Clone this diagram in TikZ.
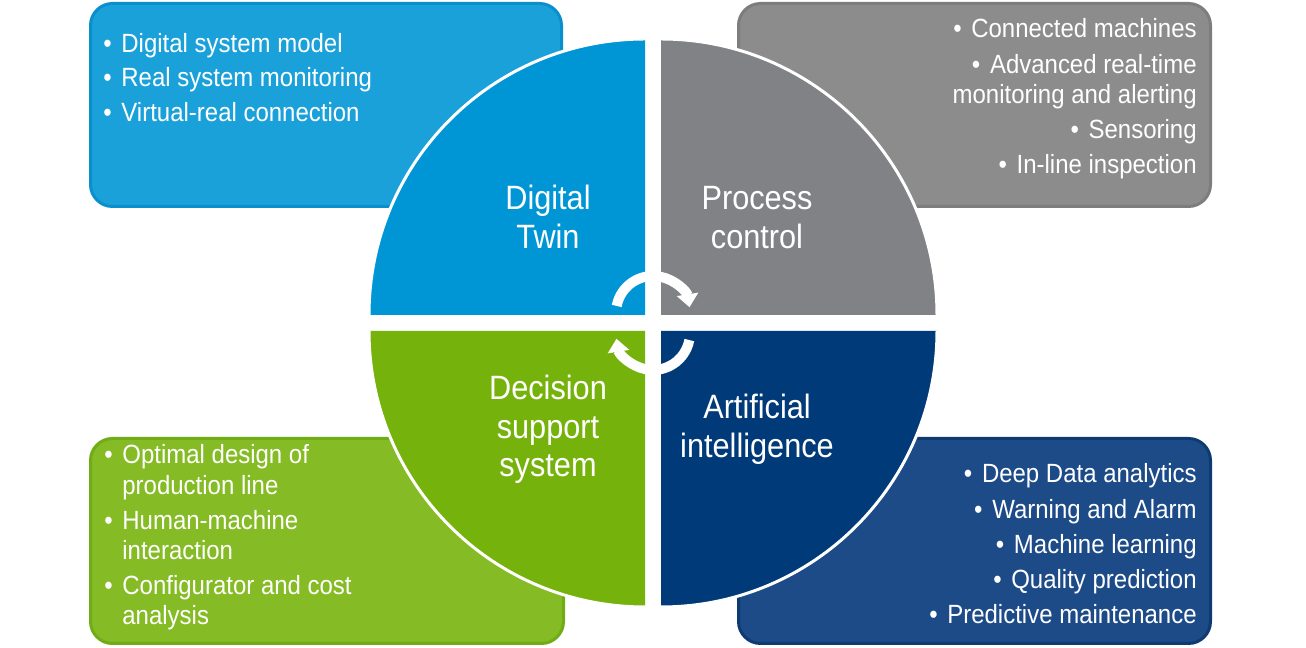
\documentclass[tikz,border=0pt]{standalone}
\usepackage{fontspec}
\setmainfont{Liberation Sans}[FakeStretch=0.91]
\usetikzlibrary{arrows.meta}

\definecolor{dt}{RGB}{0,150,214}
\definecolor{dtbox}{RGB}{27,161,218}
\definecolor{dtline}{RGB}{10,143,205}
\definecolor{pc}{RGB}{128,130,133}
\definecolor{pcbox}{RGB}{140,140,140}
\definecolor{pcline}{RGB}{125,125,125}
\definecolor{ds}{RGB}{118,178,12}
\definecolor{dsbox}{RGB}{133,187,37}
\definecolor{dsline}{RGB}{112,172,22}
\definecolor{ai}{RGB}{0,58,120}
\definecolor{aibox}{RGB}{28,75,136}
\definecolor{ailine}{RGB}{14,58,114}

\newcommand{\lgap}{2.8pt}
\newcommand{\bl}{\textbullet\hspace{5.5pt}}

\begin{document}
\begin{tikzpicture}[
        x=0.02cm, y=0.02cm,
        panel/.style={draw=#1line, fill=#1box, line width=0.06cm, rounded corners=0.44cm},
        rim/.style={draw=white, line width=0.06cm},
        title/.style={text=white, inner sep=0pt, anchor=base, font=\fontsize{19.2}{22.1}\selectfont},
        list/.style={text=white, inner sep=0pt, font=\fontsize{15}{17.2}\selectfont},
        cyc/.style={draw=white, line width=0.2cm, -{Triangle[width=0.42cm, length=0.26cm]}},
    ]
    \fill[white] (0,0) rectangle (1306,648);
    \useasboundingbox (0,0) rectangle (1306,648);

    % ---- Panels ----
    \draw[panel=dt] (90.5,441.5) rectangle (561.5,644.5);
    \draw[panel=pc] (738.5,441.5) rectangle (1210.5,644.5);
    \draw[panel=ds] (90.5,4.5) rectangle (563.5,209.5);
    \draw[panel=ai] (738.5,4.5) rectangle (1210.5,209.5);

    % ---- Quadrants ----
    \foreach \cx/\cy/\ang/\col in {645/333/90/dt, 661/333/0/pc, 645/317/180/ds, 661/317/270/ai} {
        \fill[\col] (\cx,\cy) -- ++(\ang+90:276) arc[start angle=\ang+90, end angle=\ang, radius=276] -- cycle;
        \draw[rim] (\cx,\cy) ++(\ang+90:276) arc[start angle=\ang+90, end angle=\ang, radius=276];
    }

    % ---- Titles ----
    \node[title] (dt-title) at (548,438.7) {\begin{tabular}[t]{@{}c@{}}Digital\\Twin\end{tabular}};
    \node[title] (pc-title) at (757,438.7) {\begin{tabular}[t]{@{}c@{}}Process\\control\end{tabular}};
    \node[title] (ds-title) at (548,248.7) {\begin{tabular}[t]{@{}c@{}}Decision\\support\\system\end{tabular}};
    \node[title] (ai-title) at (757,229.7) {\begin{tabular}[t]{@{}c@{}}Artificial\\intelligence\end{tabular}};

    % ---- Cycle arrows ----
    \draw[cyc] (653,335) ++(169:37) arc[start angle=169, end angle=9, radius=37];
    \draw[cyc] (653,315) ++(-11:37) arc[start angle=-11, end angle=-171, radius=37];

    % ---- Lists ----
    \node[list, anchor=base west] (dt-list) at (103,595.7) {\begin{tabular}[t]{@{}l@{\hspace{5.5pt}}l@{}}
        \textbullet & Digital system model\\[2.4pt]
        \textbullet & Real system monitoring\\[2.4pt]
        \textbullet & Virtual-real connection
    \end{tabular}};
    \node[list, anchor=base east] (pc-list) at (1197,610) {\begin{tabular}[t]{@{}r@{}}
        \bl Connected machines\\[\lgap]
        \bl Advanced real-time\\
        monitoring and alerting\\[\lgap]
        \bl Sensoring\\[\lgap]
        \bl In-line inspection
    \end{tabular}};
    \node[list, anchor=base west] (ds-list) at (104,184) {\begin{tabular}[t]{@{}l@{\hspace{5.5pt}}l@{}}
        \textbullet & Optimal design of\\
                    & production line\\[\lgap]
        \textbullet & Human-machine\\
                    & interaction\\[\lgap]
        \textbullet & Configurator and cost\\
                    & analysis
    \end{tabular}};
    \node[list, anchor=base east] (ai-list) at (1197,165) {\begin{tabular}[t]{@{}r@{}}
        \bl Deep Data analytics\\[\lgap]
        \bl Warning and Alarm\\[\lgap]
        \bl Machine learning\\[\lgap]
        \bl Quality prediction\\[\lgap]
        \bl Predictive maintenance
    \end{tabular}};
\end{tikzpicture}
\end{document}
